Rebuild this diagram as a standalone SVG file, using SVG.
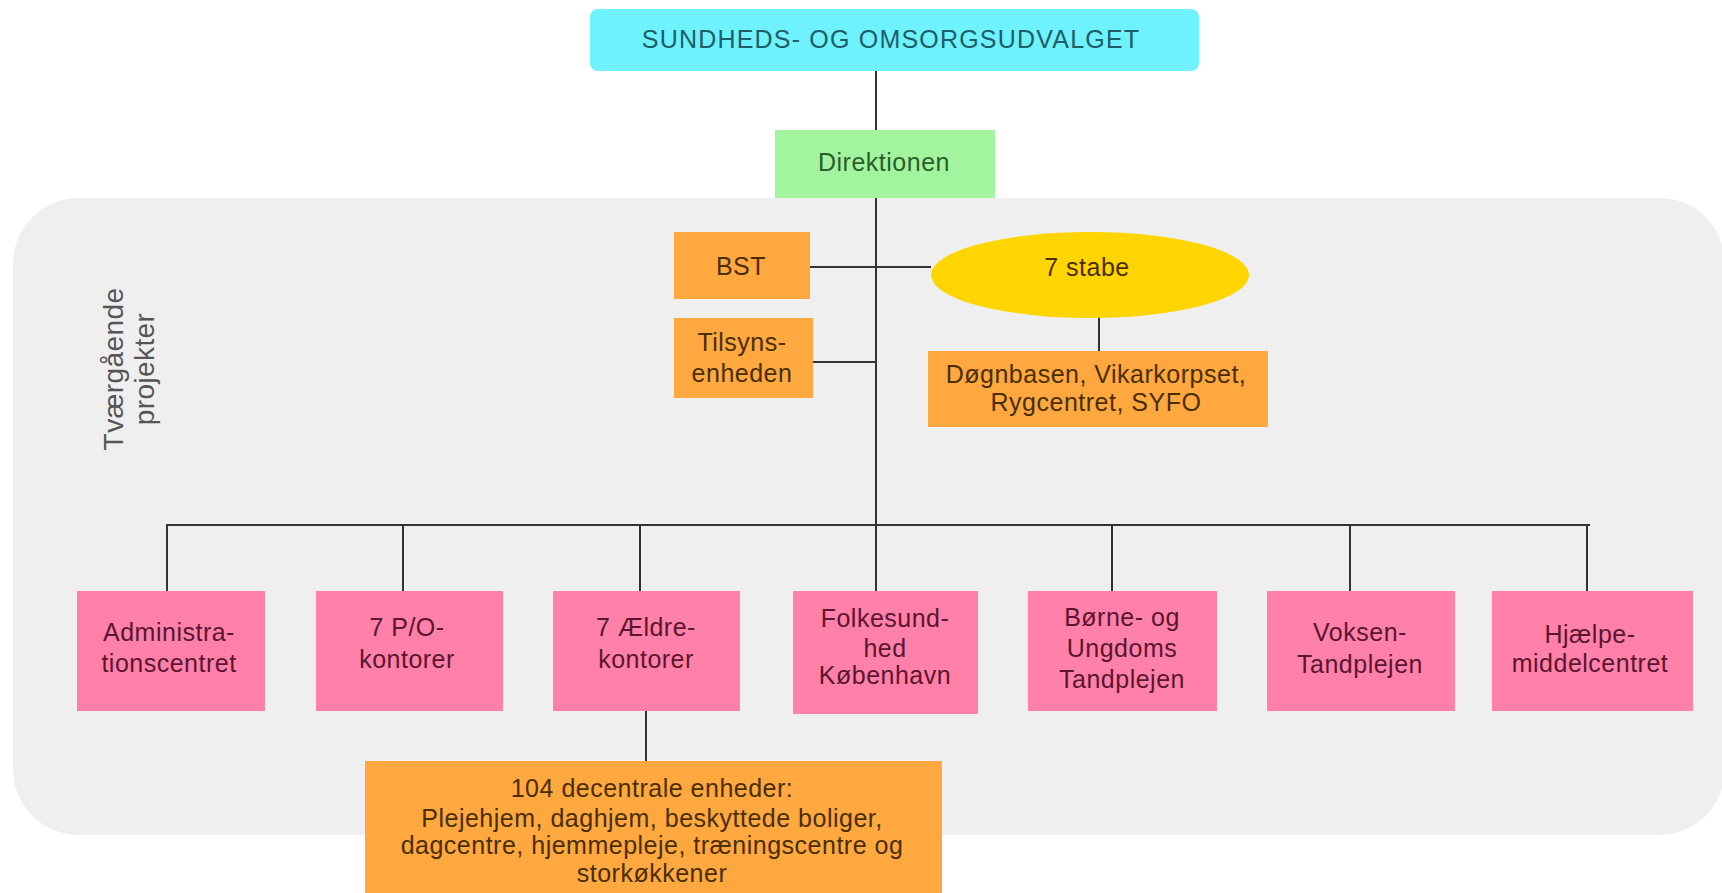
<svg xmlns="http://www.w3.org/2000/svg" width="1722" height="893" viewBox="0 0 1722 893">
<style>
text{font-family:"Liberation Sans",Arial,sans-serif;font-size:25px;letter-spacing:0.5px;text-anchor:middle}
.cyan{fill:#6EF2FE}
.green{fill:#A2F59E}
.orange{fill:#FFA83F}
.pink{fill:#FF80A8}
.yellow{fill:#FFD500}
.tc{fill:#1E5E66;letter-spacing:1.2px}
.tg{fill:#2B5E2B}
.to{fill:#4A2E00}
.tp{fill:#5C1530}
.tv{fill:#555;font-size:28px;letter-spacing:0.4px}
.ln{stroke:#333;stroke-width:2;fill:none}
</style>
<rect x="0" y="0" width="1722" height="893" fill="#ffffff"/>
<rect id="bg" x="13" y="198" width="1712" height="637" rx="66" ry="66" fill="#EFEFEF"/>
<text class="tv" transform="translate(0,369) rotate(-90)"><tspan x="0" y="123">Tværgående</tspan><tspan x="0" y="154">projekter</tspan></text>
<g id="connectors">
<line class="ln" x1="876" y1="71" x2="876" y2="130"/>
<line class="ln" x1="876" y1="198" x2="876" y2="525"/>
<line class="ln" x1="810" y1="267" x2="931" y2="267"/>
<line class="ln" x1="813" y1="362" x2="876" y2="362"/>
<line class="ln" x1="1099" y1="317" x2="1099" y2="351"/>
<line class="ln" x1="166" y1="525" x2="1590" y2="525"/>
<line class="ln" x1="167" y1="525" x2="167" y2="591"/>
<line class="ln" x1="403" y1="525" x2="403" y2="591"/>
<line class="ln" x1="640" y1="525" x2="640" y2="591"/>
<line class="ln" x1="876" y1="525" x2="876" y2="591"/>
<line class="ln" x1="1112" y1="525" x2="1112" y2="591"/>
<line class="ln" x1="1350" y1="525" x2="1350" y2="591"/>
<line class="ln" x1="1587" y1="525" x2="1587" y2="591"/>
<line class="ln" x1="646" y1="711" x2="646" y2="761"/>
</g>
<g id="udvalget"><rect class="cyan" x="590" y="9" width="609" height="62" rx="8"/><text class="tc" x="891" y="48">SUNDHEDS- OG OMSORGSUDVALGET</text></g>
<g id="direktionen"><rect class="green" x="775" y="130" width="220" height="68"/><text class="tg" x="884" y="171">Direktionen</text></g>
<g id="bst"><rect class="orange" x="674" y="232" width="136" height="67"/><text class="to" x="741" y="275">BST</text></g>
<g id="tilsyn"><rect class="orange" x="674" y="318" width="139" height="80"/><text class="to" x="742" y="351">Tilsyns-</text><text class="to" x="742" y="382">enheden</text></g>
<g id="stabe"><ellipse class="yellow" cx="1090" cy="275" rx="159" ry="43"/><text class="to" x="1087" y="276">7 stabe</text></g>
<g id="doegnbasen"><rect class="orange" x="928" y="351" width="340" height="76"/><text class="to" x="1096" y="383">Døgnbasen, Vikarkorpset,</text><text class="to" x="1096" y="411">Rygcentret, SYFO</text></g>
<g id="admin"><rect class="pink" x="77" y="591" width="188" height="120"/><text class="tp" x="169" y="641">Administra-</text><text class="tp" x="169" y="672">tionscentret</text></g>
<g id="po"><rect class="pink" x="316" y="591" width="187" height="120"/><text class="tp" x="407" y="636">7 P/O-</text><text class="tp" x="407" y="668">kontorer</text></g>
<g id="aeldre"><rect class="pink" x="553" y="591" width="187" height="120"/><text class="tp" x="646" y="636">7 Ældre-</text><text class="tp" x="646" y="668">kontorer</text></g>
<g id="folkesundhed"><rect class="pink" x="793" y="591" width="185" height="123"/><text class="tp" x="885" y="627">Folkesund-</text><text class="tp" x="885" y="657">hed</text><text class="tp" x="885" y="684">København</text></g>
<g id="boerne"><rect class="pink" x="1028" y="591" width="189" height="120"/><text class="tp" x="1122" y="626">Børne- og</text><text class="tp" x="1122" y="657">Ungdoms</text><text class="tp" x="1122" y="688">Tandplejen</text></g>
<g id="voksen"><rect class="pink" x="1267" y="591" width="188" height="120"/><text class="tp" x="1360" y="641">Voksen-</text><text class="tp" x="1360" y="673">Tandplejen</text></g>
<g id="hjaelpe"><rect class="pink" x="1492" y="591" width="201" height="120"/><text class="tp" x="1590" y="643">Hjælpe-</text><text class="tp" x="1590" y="672">middelcentret</text></g>
<g id="decentrale"><rect class="orange" x="365" y="761" width="577" height="140"/><text class="to" x="652" y="797">104 decentrale enheder:</text><text class="to" x="652" y="827">Plejehjem, daghjem, beskyttede boliger,</text><text class="to" x="652" y="854">dagcentre, hjemmepleje, træningscentre og</text><text class="to" x="652" y="882">storkøkkener</text></g>
</svg>
